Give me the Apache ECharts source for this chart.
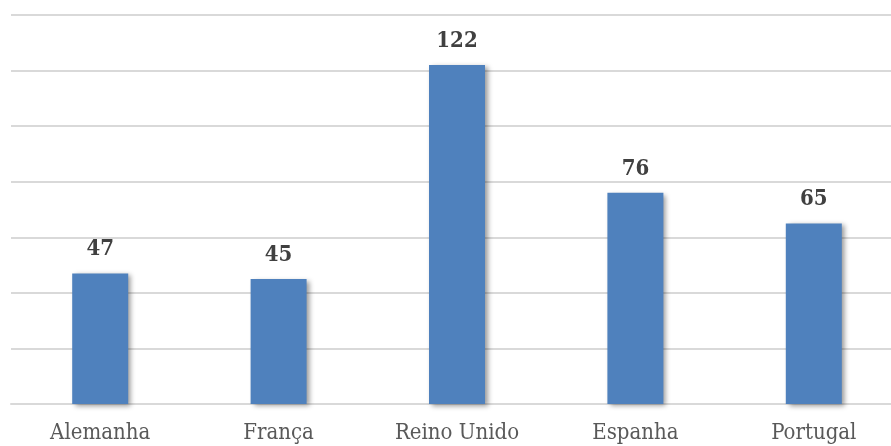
<!DOCTYPE html>
<html>
<head>
<meta charset="utf-8">
<script src="https://cdn.jsdelivr.net/npm/echarts@6/dist/echarts.min.js"></script>
<style>
  html, body { margin: 0; padding: 0; background: #ffffff; }
  #chart { width: 891px; height: 446px; }
</style>
</head>
<body>
<div id="chart"></div>
<script>
// Country categories and their values
const countries = ['Alemanha', 'França', 'Reino Unido', 'Espanha', 'Portugal'];
const values = [47, 45, 122, 76, 65];

// Value axis range
const axisMin = 0;
const axisMax = 140;
const axisStep = 20;

const serif = '"DejaVu Serif Condensed", "DejaVu Serif", serif';

const chart = echarts.init(document.getElementById('chart'), null, { renderer: 'canvas' });

chart.setOption({
  animation: false,
  backgroundColor: '#ffffff',
  grid: {
    left: 11, width: 892, top: 15, bottom: 42,
    containLabel: false,
    outerBoundsMode: 'none'
  },
  xAxis: {
    type: 'category',
    data: countries,
    axisLine: { show: true, lineStyle: { color: '#d9d9d9', width: 2 } },
    axisTick: { show: false },
    axisLabel: {
      color: '#595959',
      fontFamily: serif,
      fontSize: 22,
      margin: 18
    }
  },
  yAxis: {
    type: 'value',
    min: axisMin,
    max: axisMax,
    interval: axisStep,
    axisLabel: { show: false },
    axisLine: { show: false },
    axisTick: { show: false },
    splitLine: { show: true, lineStyle: { color: '#d9d9d9', width: 2 } }
  },
  series: [{
    type: 'bar',
    data: values,
    barWidth: 56,
    itemStyle: {
      color: '#4f81bd',
      shadowColor: 'rgba(0,0,0,0.4)',
      shadowBlur: 5,
      shadowOffsetX: 3,
      shadowOffsetY: 2
    },
    label: {
      show: true,
      position: 'top',
      distance: 13,
      color: '#404040',
      fontFamily: serif,
      fontWeight: 'bold',
      fontSize: 22
    }
  }]
});
</script>
</body>
</html>
